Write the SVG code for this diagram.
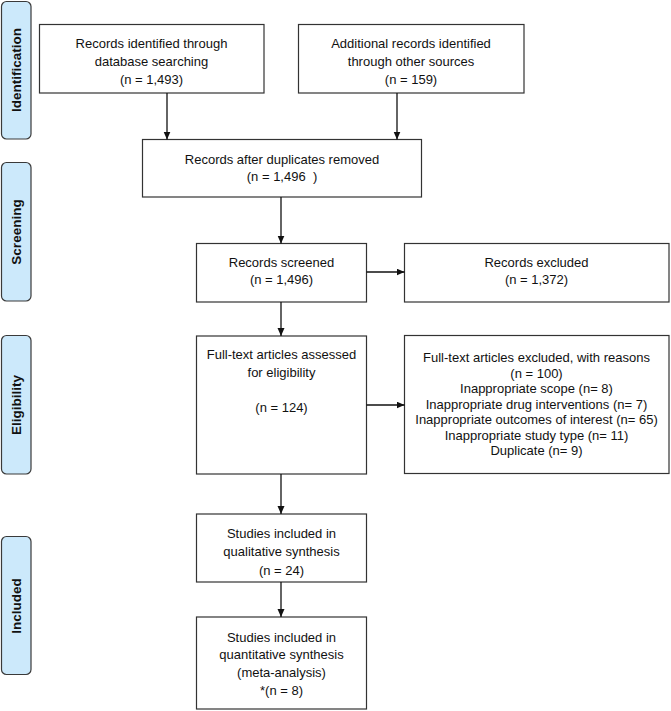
<svg xmlns="http://www.w3.org/2000/svg" width="671" height="711" viewBox="0 0 671 711">
<defs>
<marker id="ah" markerUnits="userSpaceOnUse" markerWidth="9" markerHeight="8" refX="8" refY="3.5" orient="auto">
<path d="M0,0 L8,3.5 L0,7 z" fill="#111"/>
</marker>
<style>
.box{fill:#fff;stroke:#333;stroke-width:1.2}
.lab{fill:#cce9fb;stroke:#3a3a3a;stroke-width:1.2}
.t{font-family:"Liberation Sans",Arial,sans-serif;font-size:13px;fill:#111;text-anchor:middle}
.lt{font-family:"Liberation Sans",Arial,sans-serif;font-size:13.5px;font-weight:bold;fill:#111;text-anchor:middle;dominant-baseline:central}
.c{stroke:#111;stroke-width:1.3;fill:none;marker-end:url(#ah)}
</style>
</defs>
<rect width="671" height="711" fill="#fff"/>

<g id="label-identification">
<rect class="lab" x="1.5" y="1.5" width="29.5" height="137.5" rx="5"/>
<text class="lt" transform="translate(16.5,70) rotate(-90)">Identification</text>
</g>
<g id="label-screening">
<rect class="lab" x="1.5" y="162.5" width="29.5" height="138.5" rx="5"/>
<text class="lt" transform="translate(16.5,232) rotate(-90)">Screening</text>
</g>
<g id="label-eligibility">
<rect class="lab" x="1.5" y="335.5" width="29.5" height="138.5" rx="5"/>
<text class="lt" transform="translate(16.5,405) rotate(-90)">Eligibility</text>
</g>
<g id="label-included">
<rect class="lab" x="1.5" y="536.5" width="29.5" height="138" rx="5"/>
<text class="lt" transform="translate(16.5,606) rotate(-90)">Included</text>
</g>

<g id="db-search">
<rect class="box" x="39.5" y="24.5" width="224.5" height="68.5"/>
<text class="t" x="151.5" y="47.5">Records identified through</text>
<text class="t" x="151.5" y="65.5">database searching</text>
<text class="t" x="151.5" y="83.5">(n = 1,493)</text>
</g>
<g id="other-sources">
<rect class="box" x="298.5" y="24.5" width="225.5" height="68.5"/>
<text class="t" x="411" y="47.5">Additional records identified</text>
<text class="t" x="411" y="65.5">through other sources</text>
<text class="t" x="411" y="83.5">(n = 159)</text>
</g>
<g id="dedup">
<rect class="box" x="142.5" y="139.5" width="279" height="57.5"/>
<text class="t" x="282" y="163.5">Records after duplicates removed</text>
<text class="t" x="282" y="180.5" xml:space="preserve">(n = 1,496  )</text>
</g>
<g id="screened">
<rect class="box" x="196.5" y="243.5" width="170" height="58.5"/>
<text class="t" x="281.5" y="266.5">Records screened</text>
<text class="t" x="281.5" y="283.5">(n = 1,496)</text>
</g>
<g id="excluded">
<rect class="box" x="404.5" y="243.5" width="264.5" height="58.5"/>
<text class="t" x="536.5" y="266.5">Records excluded</text>
<text class="t" x="536.5" y="283.5">(n = 1,372)</text>
</g>
<g id="fulltext">
<rect class="box" x="196.5" y="336" width="170" height="138"/>
<text class="t" x="281.5" y="358.5">Full-text articles assessed</text>
<text class="t" x="281.5" y="376.5">for eligibility</text>
<text class="t" x="281.5" y="411.5">(n = 124)</text>
</g>
<g id="fulltext-excluded">
<rect class="box" x="404.5" y="335.5" width="264.5" height="138"/>
<text class="t" x="536.5" y="362">Full-text articles excluded, with reasons</text>
<text class="t" x="536.5" y="377.5">(n = 100)</text>
<text class="t" x="536.5" y="393">Inappropriate scope (n= 8)</text>
<text class="t" x="536.5" y="408.5">Inappropriate drug interventions (n= 7)</text>
<text class="t" x="536.5" y="424">Inappropriate outcomes of interest (n= 65)</text>
<text class="t" x="536.5" y="439.5">Inappropriate study type (n= 11)</text>
<text class="t" x="536.5" y="455">Duplicate (n= 9)</text>
</g>
<g id="qualitative">
<rect class="box" x="196.5" y="514" width="170" height="68"/>
<text class="t" x="281.5" y="537.5">Studies included in</text>
<text class="t" x="281.5" y="556">qualitative synthesis</text>
<text class="t" x="281.5" y="574.5">(n = 24)</text>
</g>
<g id="quantitative">
<rect class="box" x="196.5" y="617" width="170" height="92"/>
<text class="t" x="281.5" y="641.5">Studies included in</text>
<text class="t" x="281.5" y="659">quantitative synthesis</text>
<text class="t" x="281.5" y="677">(meta-analysis)</text>
<text class="t" x="281.5" y="694.5">*(n = 8)</text>
</g>

<g id="connectors">
<line class="c" x1="167" y1="93" x2="167" y2="139.5"/>
<line class="c" x1="397" y1="93" x2="397" y2="139.5"/>
<line class="c" x1="281" y1="197" x2="281" y2="243.5"/>
<line class="c" x1="366.5" y1="272" x2="404.5" y2="272"/>
<line class="c" x1="281" y1="302" x2="281" y2="336"/>
<line class="c" x1="366.5" y1="405" x2="404.5" y2="405"/>
<line class="c" x1="281" y1="474" x2="281" y2="514"/>
<line class="c" x1="281" y1="582" x2="281" y2="617"/>
</g>
</svg>
